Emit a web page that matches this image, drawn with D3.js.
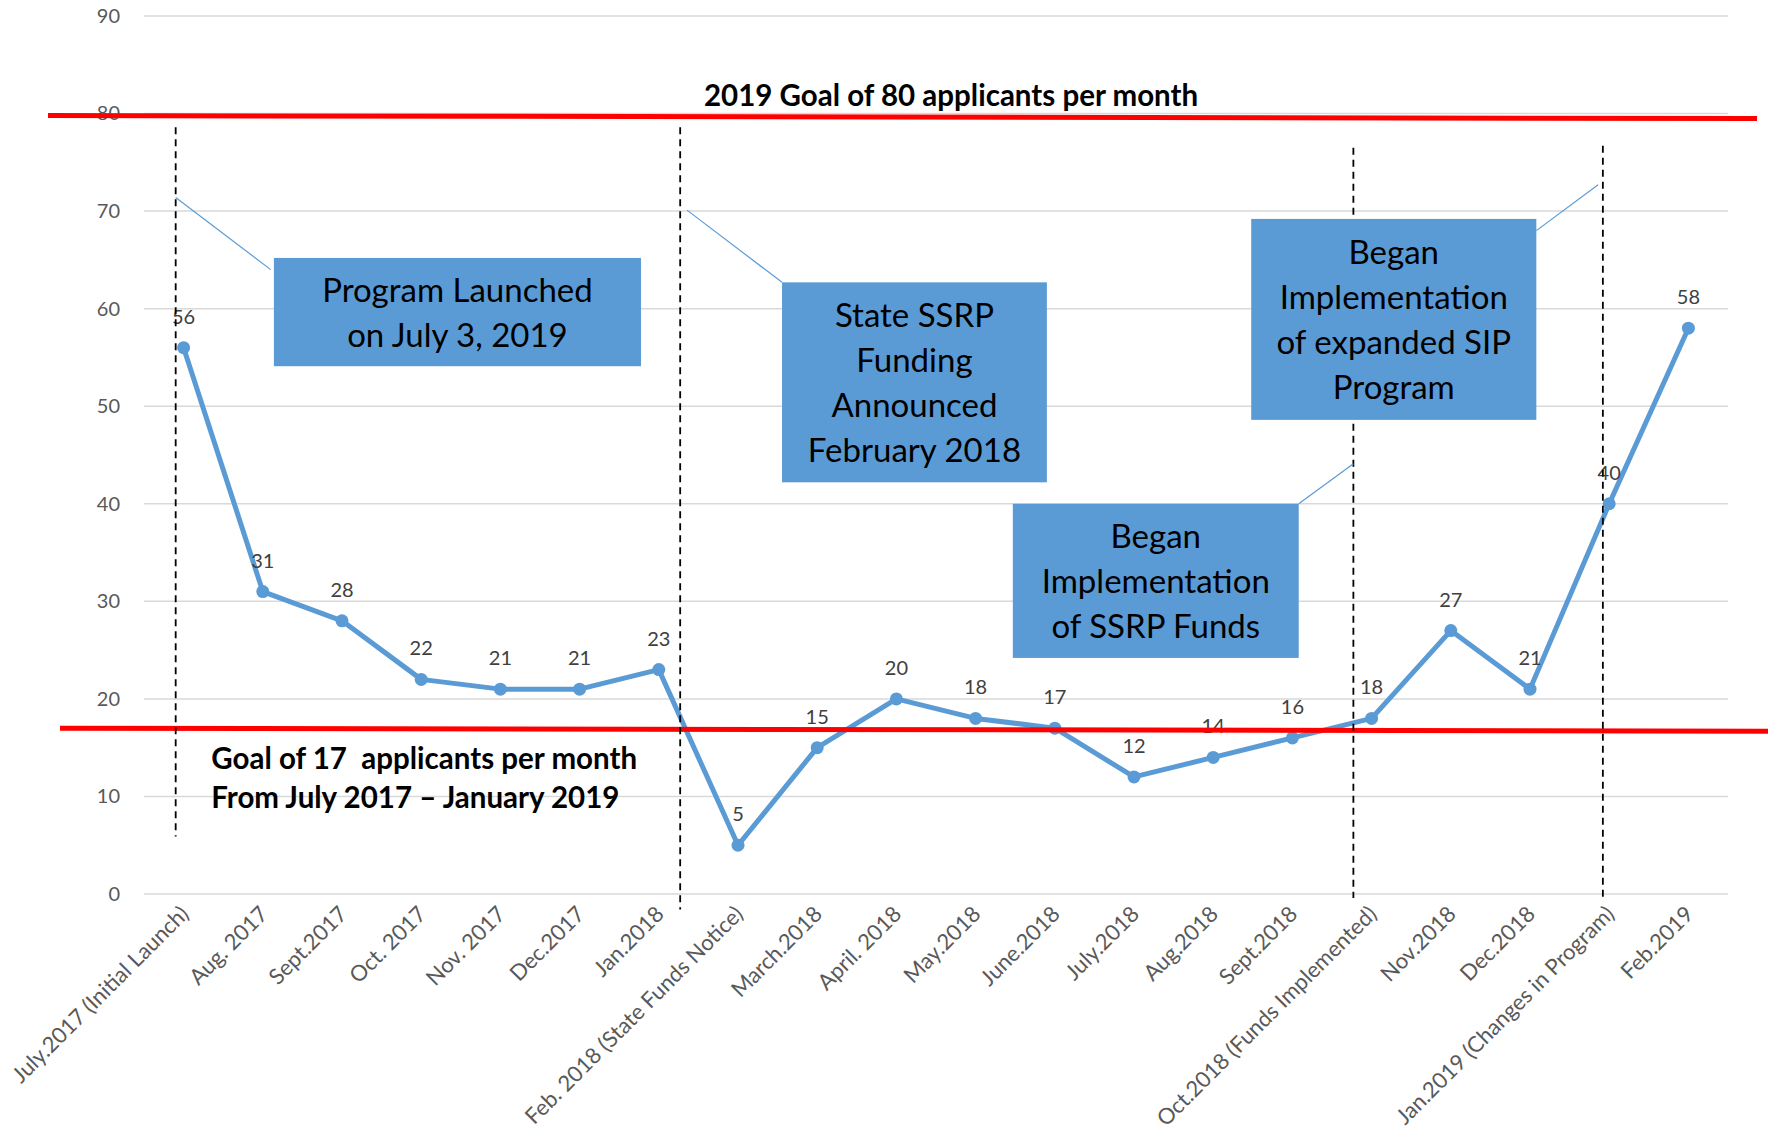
<!DOCTYPE html>
<html>
<head>
<meta charset="utf-8">
<script src="https://cdn.jsdelivr.net/npm/d3@7"></script>
<style>
body { margin: 0; background: #fff; }
svg { display: block; font-family: Lato, "Open Sans", sans-serif; }
</style>
</head>
<body>
<div id="chart-area"></div>
<script>
// ---- data ----
let months = ["July.2017 (Initial Launch)", "Aug. 2017", "Sept.2017", "Oct. 2017", "Nov. 2017", "Dec.2017",
	"Jan.2018", "Feb. 2018 (State Funds Notice)", "March.2018", "April. 2018", "May.2018", "June.2018",
	"July.2018", "Aug.2018", "Sept.2018", "Oct.2018 (Funds Implemented)", "Nov.2018", "Dec.2018",
	"Jan.2019 (Changes in Program)", "Feb.2019"];
let applicants = [56, 31, 28, 22, 21, 21, 23, 5, 15, 20, 18, 17, 12, 14, 16, 18, 27, 21, 40, 58];
let yTicks = [0, 10, 20, 30, 40, 50, 60, 70, 80, 90];

let goalValues = [80, 17];
let goalTexts = [
	["2019 Goal of 80 applicants per month"],
	["Goal of 17  applicants per month", "From July 2017 – January 2019"]
];

// event markers, in month index units (they sit between months)
let eventPos = [-0.1, 6.27, 14.77, 17.92];

let calloutTexts = [
	["Program Launched", "on July 3, 2019"],
	["State SSRP", "Funding", "Announced", "February 2018"],
	["Began", "Implementation", "of SSRP Funds"],
	["Began", "Implementation", "of expanded SIP", "Program"]
];

// ---- layout (month index / value units) ----
let eventSpan = [[78.6, 5.9], [78.6, -1.6], [76.5, -0.4], [76.7, -0.4]];
let boxes = [ // [i0, i1, vTop, vBottom]
	[1.14, 5.775, 65.2, 54.1],
	[7.556, 10.90, 62.7, 42.2],
	[10.47, 14.08, 40.0, 24.2],
	[13.48, 17.08, 69.2, 48.6]
];
let leaders = [ // [fromI, fromV, toI, toV]
	[1.10, 64.0, -0.1, 71.4],
	[7.556, 62.7, 6.356, 70.1],
	[14.08, 40.0, 14.77, 44.1],
	[17.08, 68.0, 17.86, 72.7]
];

// SVG drawing area
let margin = {top: 16, right: 55, bottom: 248, left: 144};
let width = 1783 - margin.left - margin.right,
	height = 1142 - margin.top - margin.bottom;

let svg = d3.select("#chart-area").append("svg")
	.attr("width", width + margin.left + margin.right)
	.attr("height", height + margin.top + margin.bottom)
  .append("g")
	.attr("transform", "translate(" + margin.left + "," + margin.top + ")");

// Scales
let x = d3.scaleBand().domain(months).range([0, width]).padding(0);
let y = d3.scaleLinear().domain([0, 90]).range([height, 0]);
let bw = x.bandwidth();
let xi = d3.scaleLinear().domain([0, months.length - 1])
	.range([x(months[0]) + bw / 2, x(months[months.length - 1]) + bw / 2]);

// gridlines
svg.selectAll(".grid").data(yTicks).enter().append("line")
	.attr("class", "grid")
	.attr("x1", 0).attr("x2", width)
	.attr("y1", d => y(d)).attr("y2", d => y(d))
	.attr("stroke", "#d9d9d9").attr("stroke-width", 1.5);

// axes
let yAxisGroup = svg.append("g")
	.call(d3.axisLeft(y).tickValues(yTicks).tickSize(0).tickPadding(24));
yAxisGroup.select(".domain").remove();
yAxisGroup.selectAll("text")
	.attr("font-family", "Lato, sans-serif")
	.attr("font-size", 20).attr("fill", "#595959");

let xAxisGroup = svg.append("g")
	.attr("transform", "translate(0," + height + ")")
	.call(d3.axisBottom(x).tickSize(0));
xAxisGroup.select(".domain").remove();
xAxisGroup.selectAll("text")
	.attr("font-family", "Lato, sans-serif")
	.attr("font-size", 22).attr("fill", "#595959")
	.attr("x", 0).attr("y", 0).attr("dy", "0.35em")
	.attr("text-anchor", "end")
	.attr("transform", "translate(1,16) rotate(-45)");

// series
let line = d3.line()
	.x((d, i) => xi(i))
	.y(d => y(d));

svg.append("path").datum(applicants)
	.attr("d", line)
	.attr("fill", "none")
	.attr("stroke", "#5b9bd5")
	.attr("stroke-width", 5)
	.attr("stroke-linejoin", "round");

svg.selectAll(".dot").data(applicants).enter().append("circle")
	.attr("class", "dot")
	.attr("cx", (d, i) => xi(i))
	.attr("cy", d => y(d))
	.attr("r", 6.5)
	.attr("fill", "#5b9bd5");

svg.selectAll(".val").data(applicants).enter().append("text")
	.attr("class", "val")
	.attr("x", (d, i) => xi(i))
	.attr("y", d => y(d) - 24)
	.attr("text-anchor", "middle")
	.attr("font-size", 20).attr("fill", "#404040")
	.text(d => d);

// goal lines (slightly tilted like the hand-drawn originals)
let goalX = [[-96, 1613], [-84, 1624]];
let goalDy = [2, 0];
svg.selectAll(".goal").data(goalValues).enter().append("line")
	.attr("class", "goal")
	.attr("x1", (d, i) => goalX[i][0]).attr("x2", (d, i) => goalX[i][1])
	.attr("y1", (d, i) => y(d) + goalDy[i]).attr("y2", (d, i) => y(d) + goalDy[i] + 3)
	.attr("stroke", "#ff0000").attr("stroke-width", 5);

svg.append("text")
	.attr("x", xi(9.69)).attr("y", y(goalValues[0]) - 8)
	.attr("text-anchor", "middle")
	.attr("font-size", 29.5).attr("font-weight", "bold")
	.text(goalTexts[0][0]);

svg.append("text")
	.attr("x", xi(0.35)).attr("y", y(goalValues[1]) + 41)
	.attr("font-size", 29.5).attr("font-weight", "bold")
	.style("white-space", "pre")
	.selectAll("tspan").data(goalTexts[1]).enter().append("tspan")
	.attr("x", xi(0.35))
	.attr("dy", (d, i) => i ? 39 : 0)
	.text(d => d);

// event dashed lines
svg.selectAll(".event").data(eventPos).enter().append("line")
	.attr("class", "event")
	.attr("x1", d => xi(d)).attr("x2", d => xi(d))
	.attr("y1", (d, i) => y(eventSpan[i][0])).attr("y2", (d, i) => y(eventSpan[i][1]))
	.attr("stroke", "#000").attr("stroke-width", 1.8)
	.attr("stroke-dasharray", "7,5");

// leader lines
svg.selectAll(".leader").data(leaders).enter().append("line")
	.attr("class", "leader")
	.attr("x1", d => xi(d[0])).attr("y1", d => y(d[1]))
	.attr("x2", d => xi(d[2])).attr("y2", d => y(d[3]))
	.attr("stroke", "#5b9bd5").attr("stroke-width", 1.2);

// callout boxes
let callouts = svg.selectAll(".callout").data(calloutTexts).enter().append("g")
	.attr("class", "callout");

callouts.append("rect")
	.attr("x", (d, i) => xi(boxes[i][0]))
	.attr("y", (d, i) => y(boxes[i][2]))
	.attr("width", (d, i) => xi(boxes[i][1]) - xi(boxes[i][0]))
	.attr("height", (d, i) => y(boxes[i][3]) - y(boxes[i][2]))
	.attr("fill", "#5b9bd5");

callouts.each(function(lines, i) {
	let b = boxes[i];
	let cx = (xi(b[0]) + xi(b[1])) / 2;
	let cy = (y(b[2]) + y(b[3])) / 2;
	let t = d3.select(this).append("text")
		.attr("text-anchor", "middle")
		.attr("font-size", 33).attr("fill", "#000");
	t.selectAll("tspan").data(lines).enter().append("tspan")
		.attr("x", cx)
		.attr("y", (d, k) => cy + (k - (lines.length - 1) / 2) * 45 + 12)
		.text(d => d);
});
</script>
</body>
</html>
